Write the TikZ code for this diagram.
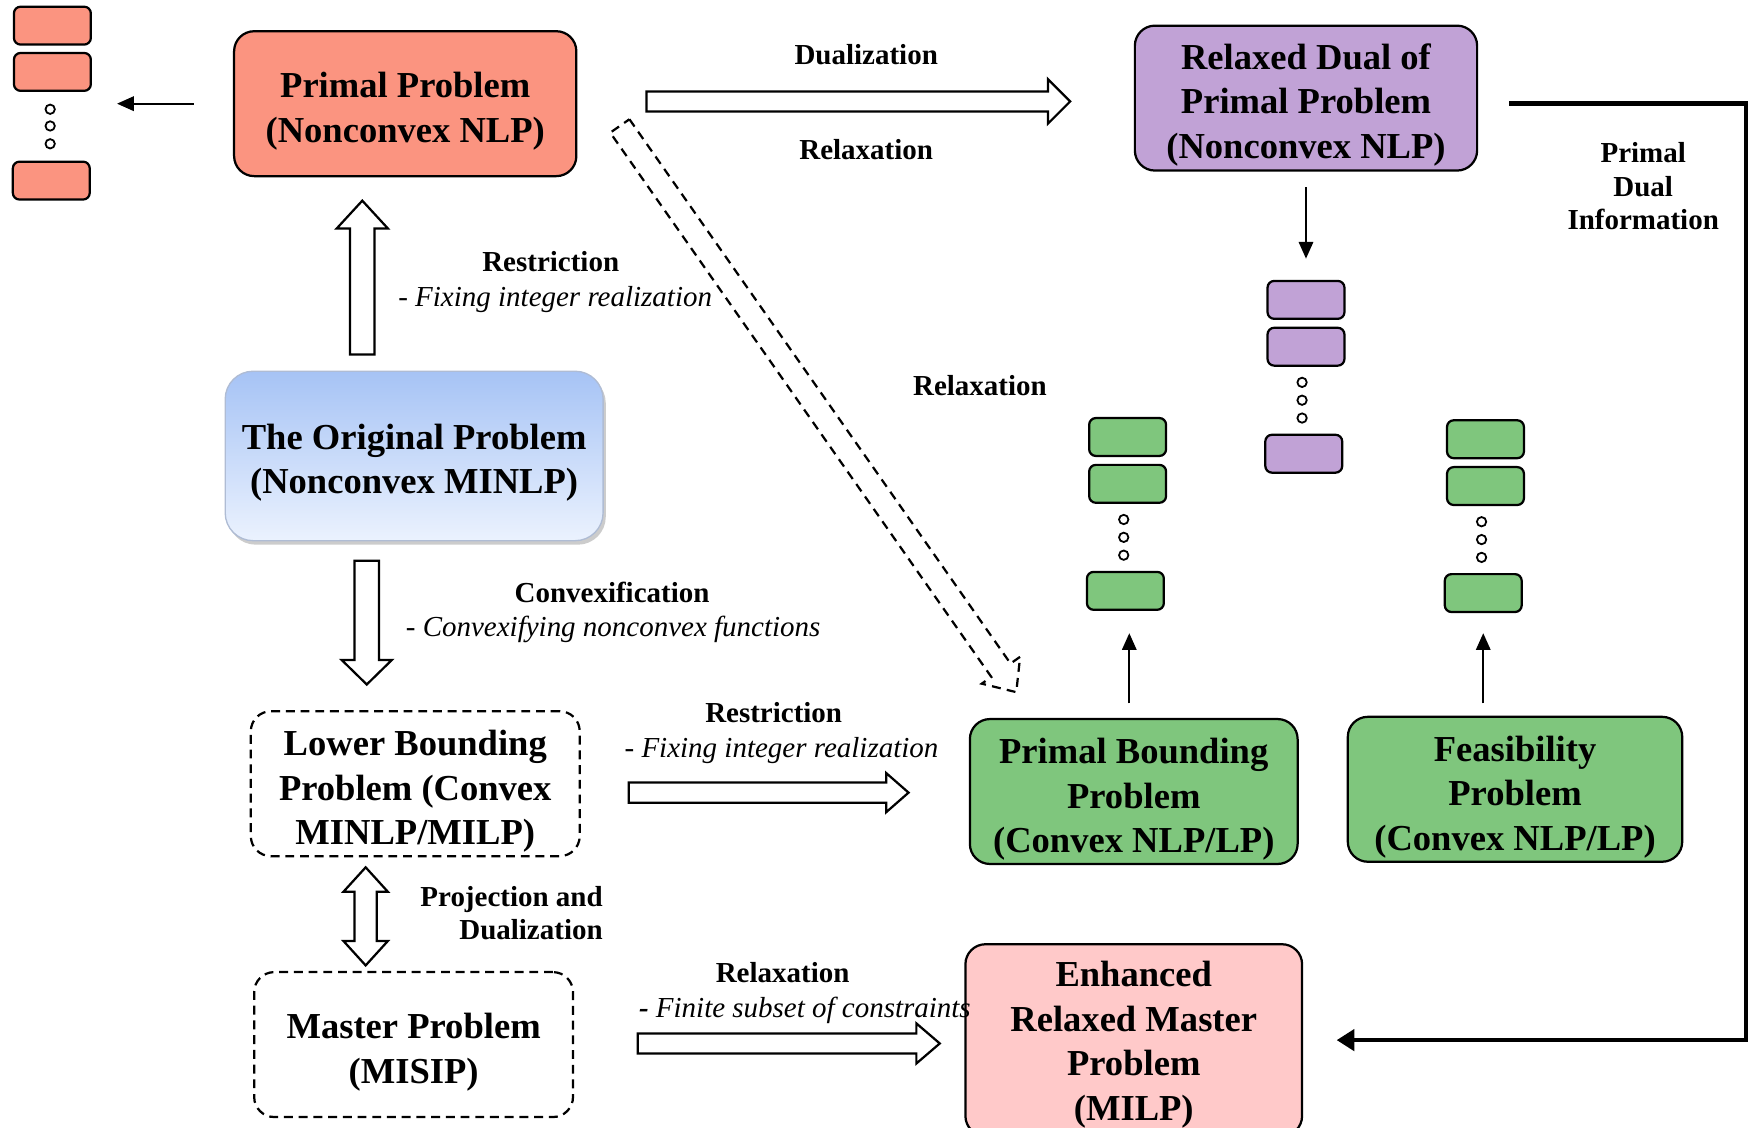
\documentclass[tikz,border=0pt]{standalone}
\usepackage{fontspec}
\setmainfont{Liberation Serif}
\usetikzlibrary{arrows.meta,shadows}

\definecolor{salmon}{RGB}{251,148,128}
\definecolor{lilac}{RGB}{193,162,214}
\definecolor{leaf}{RGB}{127,198,125}
\definecolor{blush}{RGB}{255,201,201}
\definecolor{skytop}{RGB}{166,195,245}
\definecolor{skybot}{RGB}{235,242,254}

\newcommand{\boxfont}{\fontsize{16.4}{20}\selectfont\bfseries}
\newcommand{\labfont}{\fontsize{13}{15.5}\selectfont}

% hollow block arrow: [style] {start} {angle} {length} {shaft half-width} {head half-width} {head length}
\newcommand{\hollowarrow}[7][]{%
  \begin{scope}[shift={#2},rotate=#3]
    \draw[harrow,#1] (0,-#5) -- ({#4-#7},-#5) -- ({#4-#7},-#6) -- (#4,0)
      -- ({#4-#7},#6) -- ({#4-#7},#5) -- (0,#5) -- cycle;
  \end{scope}}

\tikzset{
  bigbox/.style={draw, line width=1pt, rounded corners=9pt, inner sep=0pt},
  dashbox/.style={bigbox, dash pattern=on 4pt off 2.6pt},
  boxtext/.style={align=center, font=\boxfont, inner sep=0pt},
  minibox/.style={draw, line width=1pt, rounded corners=3pt,
                  minimum width=34.5pt, minimum height=17pt, inner sep=0pt},
  lab/.style={font=\labfont\bfseries, align=center, inner sep=0pt},
  itlab/.style={font=\labfont\itshape, inner sep=0pt, yshift=-1.5pt},
  thinarr/.style={line width=0.75pt, -{Triangle[length=7.5pt,width=6.5pt]}},
  bigarr/.style={line width=2pt, -{Triangle[length=8pt,width=9.5pt]}},
  harrow/.style={draw, fill=white, line width=1pt, line join=miter},
  ring/.style={line width=0.8pt},
}

\begin{document}
\begin{tikzpicture}[x=0.5pt,y=-0.5pt]
\useasboundingbox (0,0) rectangle (1568,1011);

% ---------- main problem boxes ----------
\node[bigbox, fill=salmon, minimum width=153.5pt, minimum height=65pt]
  (pp) at (363.5,93) {};
\node[boxtext] (ppt) at ([yshift=-3.5pt]pp.center) {Primal Problem\\(Nonconvex NLP)};

\node[bigbox, fill=lilac, minimum width=153.5pt, minimum height=65pt]
  (rd) at (1171.5,88) {};
\node[boxtext] (rdt) at ([yshift=-3pt]rd.center) {Relaxed Dual of\\Primal Problem\\(Nonconvex NLP)};

\node[bigbox, draw={rgb,255:red,175;green,188;blue,212}, line width=0.6pt,
      rounded corners=12.5pt, top color=skytop, bottom color=skybot,
      drop shadow={opacity=0.4, shadow xshift=1.2pt, shadow yshift=-1.8pt},
      minimum width=169.5pt, minimum height=76pt]
  (op) at (371.5,409) {};
\node[boxtext] (opt) at ([yshift=-3pt]op.center) {The Original Problem\\(Nonconvex MINLP)};

\node[dashbox, minimum width=147.5pt, minimum height=65pt]
  (lb) at (372.5,703) {};
\node[boxtext] (lbt) at ([yshift=-3.5pt]lb.center) {Lower Bounding\\Problem (Convex\\MINLP/MILP)};

\node[dashbox, minimum width=143pt, minimum height=65pt]
  (mp) at (371,937) {};
\node[boxtext] (mpt) at ([yshift=-3.5pt]mp.center) {Master Problem\\(MISIP)};

\node[bigbox, fill=leaf, minimum width=147pt, minimum height=65pt]
  (pb) at (1017,710) {};
\node[boxtext] (pbt) at ([yshift=-3.5pt]pb.center) {Primal Bounding\\Problem\\(Convex NLP/LP)};

\node[bigbox, fill=leaf, minimum width=150pt, minimum height=65pt]
  (fp) at (1359,708) {};
\node[boxtext] (fpt) at ([yshift=-3.5pt]fp.center) {Feasibility\\Problem\\(Convex NLP/LP)};

\node[bigbox, fill=blush, minimum width=151pt, minimum height=86pt]
  (erm) at (1017,933) {};
\node[boxtext] (ermt) at ([yshift=-2pt]erm.center) {Enhanced\\Relaxed Master\\Problem\\(MILP)};

% ---------- stacks of subproblems ----------
\node[minibox, fill=salmon] (s1) at (47,23) {};
\node[minibox, fill=salmon] (s2) at (47,64.5) {};
\node[minibox, fill=salmon] (s3) at (46,162) {};
\foreach \yy in {98,113,129} \draw[ring] (45,\yy) circle[radius=2.1pt];

\node[minibox, fill=lilac] (p1) at (1171.5,269) {};
\node[minibox, fill=lilac] (p2) at (1171.5,311) {};
\node[minibox, fill=lilac] (p3) at (1169.5,407) {};
\foreach \yy in {343,359,375} \draw[ring] (1168,\yy) circle[radius=2.1pt];

\node[minibox, fill=leaf] (g1a) at (1011.5,392) {};
\node[minibox, fill=leaf] (g1b) at (1011.5,434) {};
\node[minibox, fill=leaf] (g1c) at (1009.5,530) {};
\foreach \yy in {466,482,498} \draw[ring] (1008,\yy) circle[radius=2.1pt];

\node[minibox, fill=leaf] (g2a) at (1332.5,394) {};
\node[minibox, fill=leaf] (g2b) at (1332.5,436) {};
\node[minibox, fill=leaf] (g2c) at (1330.5,532) {};
\foreach \yy in {468,484,500} \draw[ring] (1329,\yy) circle[radius=2.1pt];

% ---------- thin connectors ----------
\coordinate (lstip) at (105,93);
\draw[thinarr, shorten <=17.5pt] (pp.west) -- (lstip);
\draw[thinarr, shorten <=7pt, shorten >=9.5pt] (rd.south) -- (p1.north);
\draw[thinarr, shorten <=6.5pt, shorten >=10pt] ([xshift=1.75pt]pb.north -| g1c.south) -- ([xshift=1.75pt]g1c.south);
\draw[thinarr, shorten <=5.5pt, shorten >=9pt] (g2c.south |- fp.north) -- (g2c.south);

% ---------- primal / dual information feedback ----------
\draw[bigarr, line join=miter] ([xshift=14pt,yshift=-2.5pt]rd.east) -- ++(212,0)
  |- ([xshift=15pt]erm.east);
\node[lab] (pdi) at (1474,167) {Primal\\[-0.6pt]Dual\\[-0.6pt]Information};

% ---------- hollow block arrows ----------
\hollowarrow{(580,91)}{0}{380}{9}{20}{20}
\hollowarrow{(325,318)}{90}{138}{11}{23}{25}
\hollowarrow{(329,503)}{-90}{111}{11}{22.5}{22}
\hollowarrow{(564,711)}{0}{251}{9}{17.5}{20}
\hollowarrow{(572,936)}{0}{271}{9}{18}{21}
\hollowarrow[dash pattern=on 4pt off 2.8pt, fill=none]{(556,113)}{-55}{620}{10.5}{21}{24}
\begin{scope}[shift={(328,822)}]
  \draw[harrow] (0,-44) -- (20,-22) -- (10,-22) -- (10,22) -- (20,22) -- (0,44)
    -- (-20,22) -- (-10,22) -- (-10,-22) -- (-20,-22) -- cycle;
\end{scope}

% ---------- arrow labels ----------
\node[lab] (l1) at (777,49) {Dualization};
\node[lab] (l2) at (777,134) {Relaxation};
\node[lab] (l3) at (494,235) {Restriction};
\node[itlab] (l4) at (498,266) {- Fixing integer realization};
\node[lab] (l5) at (879,346) {Relaxation};
\node[lab] (l6) at (549,531) {Convexification};
\node[itlab] (l7) at (550,562) {- Convexifying nonconvex functions};
\node[lab] (l8) at (694,639) {Restriction};
\node[itlab] (l9) at (701,670) {- Fixing integer realization};
\node[lab, align=right, anchor=east] (l10) at (541,819) {Projection and\\[-0.6pt]Dualization};
\node[lab] (l11) at (702,872) {Relaxation};
\node[itlab] (l12) at (722,903) {\textbf{-} Finite subset of constraints};
\end{tikzpicture}
\end{document}
